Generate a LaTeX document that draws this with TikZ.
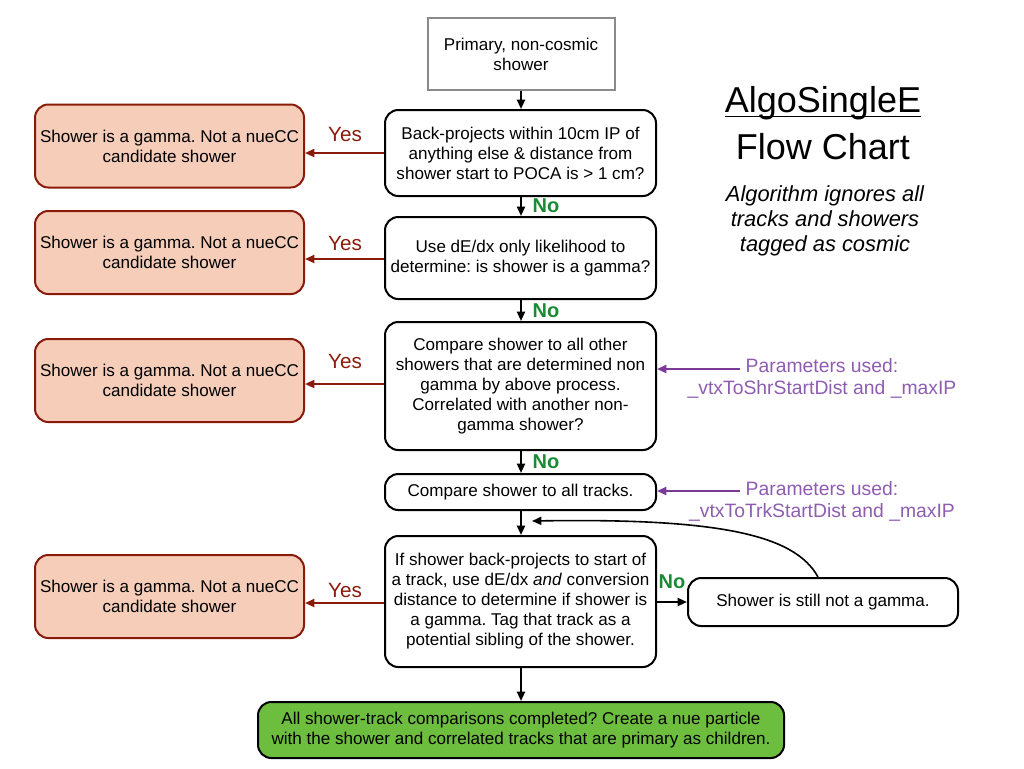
\documentclass[tikz,border=0pt]{standalone}
\usepackage{fontspec}
\setmainfont{Liberation Sans}
\usetikzlibrary{arrows.meta}
\frenchspacing
\definecolor{salmon}{HTML}{F6CDB9}
\definecolor{darkred}{HTML}{8A1B0B}
\definecolor{leaf}{HTML}{6DBE3F}
\definecolor{nogreen}{HTML}{1A8A34}
\definecolor{purp}{HTML}{7B3A96}
\definecolor{purptext}{HTML}{8E5CB1}
\definecolor{graybox}{HTML}{8A8A8A}
\tikzset{
  boxfont/.style={font=\fontsize{12.8}{15}\selectfont},
  box/.style={draw=black, line width=1.5pt, rounded corners=10pt, align=center, inner sep=0pt, boxfont},
  startbox/.style={draw=graybox, line width=1.5pt, align=center, inner sep=0pt, boxfont},
  gammabox/.style={draw=darkred, fill=salmon, line width=1.5pt, rounded corners=10pt, align=center,
    inner sep=0pt, minimum width=269*0.75pt, minimum height=83*0.75pt, boxfont},
  endbox/.style={draw=black, fill=leaf, line width=1.5pt, rounded corners=10pt, align=center, inner sep=0pt, boxfont},
  flow/.style={-{Triangle[length=7pt,width=6pt]}, line width=1.5pt, black},
  yesarrow/.style={-{Triangle[length=7pt,width=6pt]}, line width=1.5pt, darkred},
  paramarrow/.style={-{Triangle[length=7pt,width=6pt]}, line width=1.5pt, purp},
  yeslabel/.style={text=darkred, font=\fontsize{15.5}{18}\selectfont},
  nolabel/.style={text=nogreen, font=\bfseries\fontsize{15}{18}\selectfont},
  paramtext/.style={text=purptext, align=center, font=\fontsize{14.5}{16}\selectfont},
}
\begin{document}
\begin{tikzpicture}[x=0.75pt, y=-0.75pt]
\useasboundingbox (0,0) rectangle (1024,768);

% main column
\node[startbox, minimum width=187*0.75pt, minimum height=72*0.75pt] (start) at (521,54) {Primary, non-cosmic\\shower};
\node[box, minimum width=271*0.75pt, minimum height=86*0.75pt] (b1) at (520.5,153) {Back-projects within 10cm IP of\\anything else \& distance from\\shower start to POCA is > 1 cm?};
\node[box, minimum width=271*0.75pt, minimum height=82*0.75pt] (b2) at (520.5,258) {Use dE/dx only likelihood to\\determine: is shower is a gamma?};
\node[box, minimum width=271*0.75pt, minimum height=128*0.75pt] (b3) at (520.5,386) {Compare shower to all other\\showers that are determined non\\gamma by above process.\\Correlated with another non-\\gamma shower?};
\node[box, minimum width=271*0.75pt, minimum height=36*0.75pt] (b4) at (520.5,492) {Compare shower to all tracks.};
\node[box, minimum width=271*0.75pt, minimum height=131*0.75pt] (b5) at (520.5,601.5) {If shower back-projects to start of\\a track, use dE/dx \textit{and} conversion\\distance to determine if shower is\\a gamma. Tag that track as a\\potential sibling of the shower.};
\node[endbox, minimum width=526*0.75pt, minimum height=56*0.75pt] (end) at (521,730) {All shower-track comparisons completed? Create a nue particle\\with the shower and correlated tracks that are primary as children.};
\node[box, minimum width=270*0.75pt, minimum height=48*0.75pt] (still) at (823,602) {Shower is still not a gamma.};

% gamma boxes
\node[gammabox] (g1) at (169.5,146) {Shower is a gamma. Not a nueCC\\candidate shower};
\node[gammabox] (g2) at (169.5,252.5) {Shower is a gamma. Not a nueCC\\candidate shower};
\node[gammabox] (g3) at (169.5,380.5) {Shower is a gamma. Not a nueCC\\candidate shower};
\node[gammabox] (g4) at (169.5,596.5) {Shower is a gamma. Not a nueCC\\candidate shower};

% vertical flow
\draw[flow] (start.south -| 521,0) -- (b1.north -| 521,0);
\draw[flow] (b1.south -| 521,0) -- (b2.north -| 521,0);
\draw[flow] (b2.south -| 521,0) -- (b3.north -| 521,0);
\draw[flow] (b3.south -| 521,0) -- (b4.north -| 521,0);
\draw[flow] (b4.south -| 521,0) -- (b5.north -| 521,0);
\draw[flow] (b5.south -| 521,0) -- (end.north -| 521,0);
\draw[flow] (b5.east |- 0,602) -- (still.west |- 0,602);

% No labels
\node[nolabel, anchor=west] (no1) at (528,206) {No};
\node[nolabel, anchor=west] (no2) at (528,311) {No};
\node[nolabel, anchor=west] (no3) at (528,462) {No};
\node[nolabel] (no4) at (672,582) {No};

% Yes arrows
\draw[yesarrow] (b1.west |- 0,153) -- (g1.east |- 0,153);
\draw[yesarrow] (b2.west |- 0,259) -- (g2.east |- 0,259);
\draw[yesarrow] (b3.west |- 0,384) -- (g3.east |- 0,384);
\draw[yesarrow] (b5.west |- 0,603) -- (g4.east |- 0,603);
\node[yeslabel] (y1) at (345,134) {Yes};
\node[yeslabel] (y2) at (345,243) {Yes};
\node[yeslabel] (y3) at (345,361) {Yes};
\node[yeslabel] (y4) at (345,590) {Yes};

% loop back
\coordinate (loopend) at (532,521);
\draw[flow, line width=1.2pt] (still.north -| 818,0) .. controls (795,535) and (720,518) .. (loopend);

% parameter notes
\node[paramtext] (p1) at (822,378.5) {Parameters used:\\\_vtxToShrStartDist and \_maxIP};
\node[paramtext] (p2) at (822,501.5) {Parameters used:\\\_vtxToTrkStartDist and \_maxIP};
\draw[paramarrow] (740,369) -- (b3.east |- 0,369);
\draw[paramarrow] (740,491) -- (b4.east |- 0,491);

% title
\node[font=\fontsize{27}{30}\selectfont, inner sep=0pt] (title) at (823,103) {AlgoSingleE};
\draw[line width=1.2pt] (title.base west) ++(0,4) -- ([yshift=-3pt]title.base east);
\node[font=\fontsize{27}{30}\selectfont] (title2) at (823,147) {Flow Chart};
\node[font=\itshape\fontsize{16.4}{19}\selectfont, align=center] (note) at (825,221) {Algorithm ignores all\\tracks and showers\\tagged as cosmic};
\end{tikzpicture}
\end{document}
